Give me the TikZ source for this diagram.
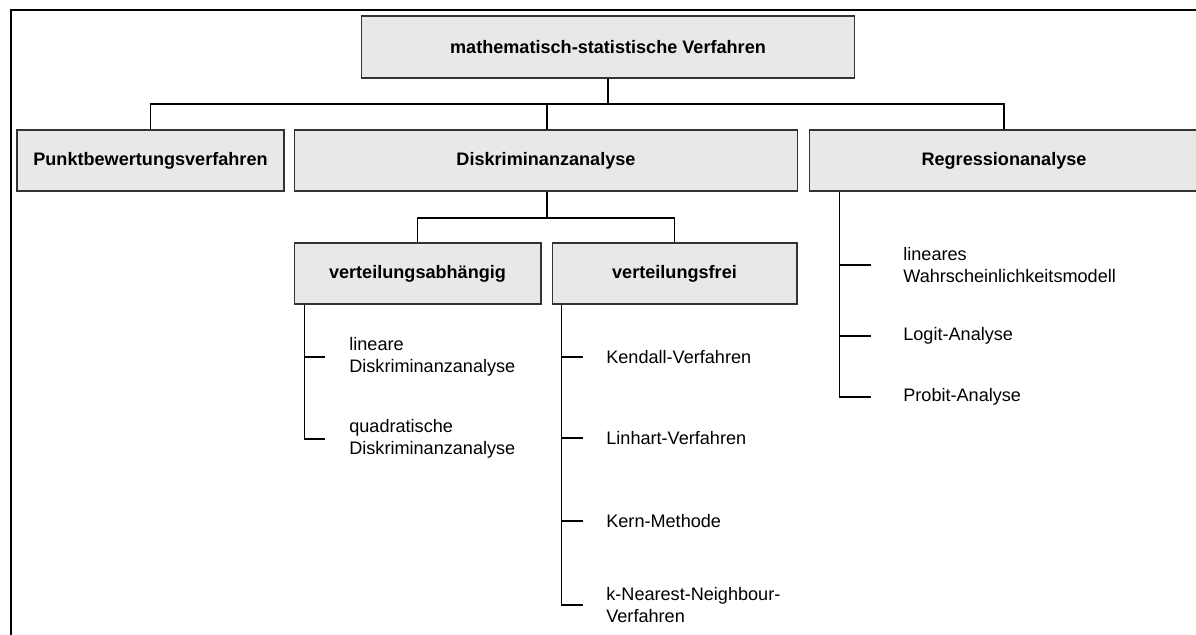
\documentclass[tikz,border=0pt]{standalone}
\usepackage{fontspec}
\setmainfont{Liberation Sans}
\usetikzlibrary{calc}
\begin{document}
\begin{tikzpicture}[x=0.02cm,y=-0.02cm,
  box/.style={draw=black!80, fill=gray!18, line width=0.6pt, inner sep=0pt,
    minimum height=1.22cm, font=\fontsize{10.3}{12.5}\selectfont\bfseries},
  leaf/.style={anchor=west, inner sep=0pt, align=left,
    font=\fontsize{10.3}{12.5}\selectfont},
  link/.style={line width=0.8pt, black}]
\useasboundingbox (0,0) rectangle (1196,635);
\clip (0,0) rectangle (1196,635);

% outer frame (top and left edge)
\draw[line width=1pt] (11,700) -- (11,10) -- (1260,10);

% boxes
\node[box, minimum width=9.88cm, minimum height=1.24cm] (top) at (608,47) {mathematisch-statistische Verfahren};
\node[box, minimum width=5.34cm] (punkt) at (150.5,160.5) {Punktbewertungsverfahren};
\node[box, minimum width=10.08cm] (diskrim) at (546,160.5) {Diskriminanzanalyse};
\node[box, minimum width=7.8cm] (regress) at (1004,160.5) {Regressionanalyse};
\node[box, minimum width=4.94cm] (vabh) at (417.5,273.5) {verteilungsabhängig};
\node[box, minimum width=4.9cm] (vfrei) at (674.5,273.5) {verteilungsfrei};

% leaves
\node[leaf] (l1) at (349,357) {lineare\\Diskriminanzanalyse};
\node[leaf] (l2) at (349,439) {quadratische\\Diskriminanzanalyse};
\node[leaf] (f1) at (606,357) {Kendall-Verfahren};
\node[leaf] (f2) at (606,438) {Linhart-Verfahren};
\node[leaf] (f3) at (606,521) {Kern-Methode};
\node[leaf] (f4) at (606,605) {k-Nearest-Neighbour-\\Verfahren};
\node[leaf] (r1) at (903,265) {lineares\\Wahrscheinlichkeitsmodell};
\node[leaf] (r2) at (903,336) {Logit-Analyse};
\node[leaf] (r3) at (903,397) {Probit-Analyse};

% first level connectors
\coordinate (j1) at (608,104);
\draw[link] (top.south) -- (j1);
\draw[link] (punkt.north) -- (punkt.north |- j1) -- (regress.north |- j1) -- (regress.north);
\draw[link] ([xshift=0.02cm]diskrim.north) -- ([xshift=0.02cm]diskrim.north |- j1);

% second level connectors
\coordinate (j2) at (547,218);
\draw[link] ([xshift=0.02cm]diskrim.south) -- (j2);
\draw[link] (vabh.north) -- (vabh.north |- j2) -- (vfrei.north |- j2) -- (vfrei.north);

% leaf trunks and ticks
\coordinate (ta) at ($(vabh.south west)+(11,0)$);
\draw[link] (ta) |- ($(l2.west)+(-24,0)$);
\draw[link] (ta |- l1.west) -- ($(l1.west)+(-24,0)$);

\coordinate (tf) at ($(vfrei.south west)+(10,0)$);
\draw[link] (tf) |- ($(f4.west)+(-23,0)$);
\draw[link] (tf |- f1.west) -- ($(f1.west)+(-23,0)$);
\draw[link] (tf |- f2.west) -- ($(f2.west)+(-23,0)$);
\draw[link] (tf |- f3.west) -- ($(f3.west)+(-23,0)$);

\coordinate (tr) at ($(regress.south west)+(31,0)$);
\draw[link] (tr) |- ($(r3.west)+(-32,0)$);
\draw[link] (tr |- r1.west) -- ($(r1.west)+(-32,0)$);
\draw[link] (tr |- r2.west) -- ($(r2.west)+(-32,0)$);
\end{tikzpicture}
\end{document}
